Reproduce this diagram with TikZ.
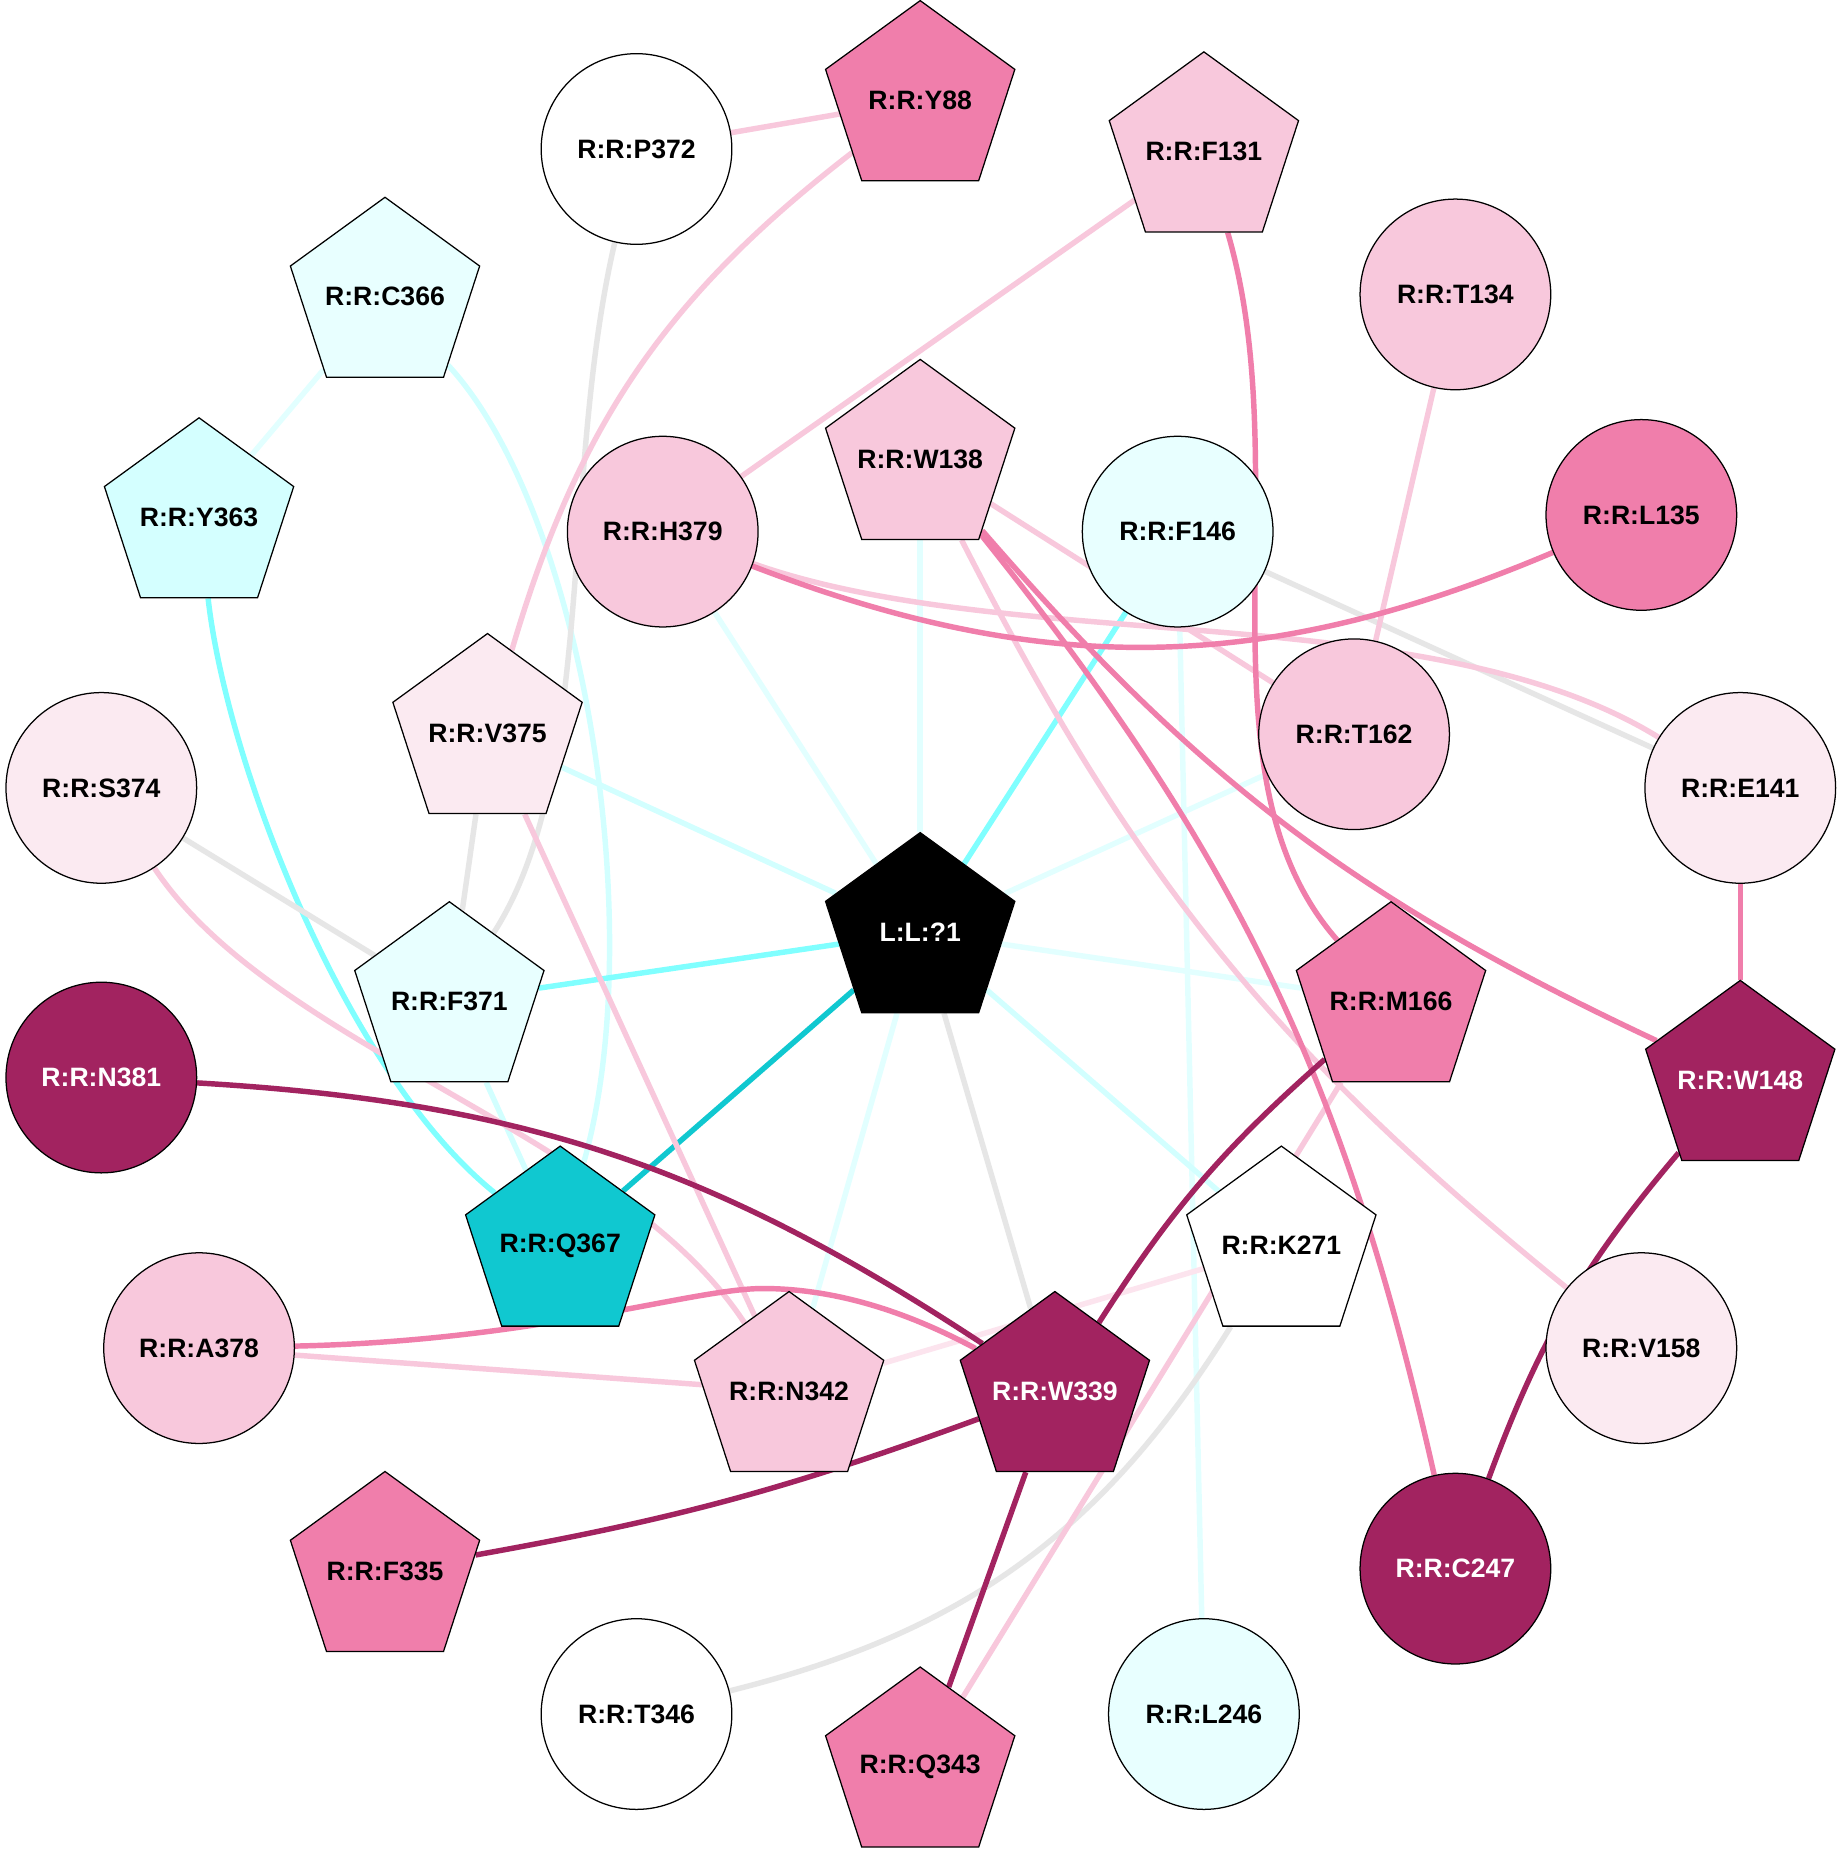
\documentclass[tikz,border=0pt]{standalone}
\usepackage{fontspec}
\setmainfont{Liberation Sans}
\usetikzlibrary{shapes.geometric,backgrounds}

\definecolor{resdark}{HTML}{A22360}
\definecolor{resmid}{HTML}{F07EAB}
\definecolor{reslight}{HTML}{F8C8DC}
\definecolor{respale}{HTML}{FBEAF1}
\definecolor{cyanpale}{HTML}{E8FFFF}
\definecolor{cyanlight}{HTML}{D4FFFF}
\definecolor{cyanfull}{HTML}{10C8D0}
\definecolor{linkgray}{HTML}{E6E6E6}
\definecolor{linkcyan}{HTML}{80FFFF}
\definecolor{linkcyanlt}{HTML}{D2FFFF}
\definecolor{linkcyanpale}{HTML}{E2FFFF}
\definecolor{linkpink}{HTML}{FCE4EE}

\newcommand{\plab}[1]{\makebox[0pt]{#1}}

\begin{document}
\begin{tikzpicture}[x=0.02cm, y=-0.02cm,
  res/.style={draw=black, line width=0.6pt, inner sep=0pt,
    font=\fontsize{12.7}{15}\selectfont\bfseries},
  circ/.style={res, circle, minimum size=3.2cm},
  pent/.style={res, regular polygon, regular polygon sides=5, minimum size=3.34cm},
  link/.style={line width=2.6pt}]
  \useasboundingbox (0,0) rectangle (1546,1568);

  \node (L1)   at ( 772, 782) [pent, fill=black, text=white] {\plab{L:L:?1}};

  \node (Y88)  at ( 772,  84) [pent, fill=resmid]    {\plab{R:R:Y88}};
  \node (P372) at ( 534, 125) [circ, fill=white]     {R:R:P372};
  \node (F131) at (1010, 127) [pent, fill=reslight]  {\plab{R:R:F131}};
  \node (C366) at ( 323, 249) [pent, fill=cyanpale]  {\plab{R:R:C366}};
  \node (T134) at (1221, 247) [circ, fill=reslight]  {R:R:T134};
  \node (Y363) at ( 167, 434) [pent, fill=cyanlight] {\plab{R:R:Y363}};
  \node (H379) at ( 556, 446) [circ, fill=reslight]  {R:R:H379};
  \node (W138) at ( 772, 385) [pent, fill=reslight]  {\plab{R:R:W138}};
  \node (F146) at ( 988, 446) [circ, fill=cyanpale]  {R:R:F146};
  \node (L135) at (1377, 432) [circ, fill=resmid]    {R:R:L135};
  \node (V375) at ( 409, 615) [pent, fill=respale]   {\plab{R:R:V375}};
  \node (S374) at (  85, 661) [circ, fill=respale]   {R:R:S374};
  \node (T162) at (1136, 616) [circ, fill=reslight]  {R:R:T162};
  \node (E141) at (1460, 661) [circ, fill=respale]   {R:R:E141};
  \node (F371) at ( 377, 840) [pent, fill=cyanpale]  {\plab{R:R:F371}};
  \node (M166) at (1167, 840) [pent, fill=resmid]    {\plab{R:R:M166}};
  \node (N381) at (  85, 904) [circ, fill=resdark, text=white] {R:R:N381};
  \node (W148) at (1460, 906) [pent, fill=resdark, text=white] {\plab{R:R:W148}};
  \node (Q367) at ( 470,1045) [pent, fill=cyanfull]  {\plab{R:R:Q367}};
  \node (K271) at (1075,1045) [pent, fill=white]     {\plab{R:R:K271}};
  \node (A378) at ( 167,1131) [circ, fill=reslight]  {R:R:A378};
  \node (N342) at ( 662,1167) [pent, fill=reslight]  {\plab{R:R:N342}};
  \node (W339) at ( 885,1167) [pent, fill=resdark, text=white] {\plab{R:R:W339}};
  \node (V158) at (1377,1131) [circ, fill=respale]   {R:R:V158};
  \node (C247) at (1221,1316) [circ, fill=resdark, text=white] {R:R:C247};
  \node (F335) at ( 323,1318) [pent, fill=resmid]    {\plab{R:R:F335}};
  \node (T346) at ( 534,1438) [circ, fill=white]     {R:R:T346};
  \node (Q343) at ( 772,1482) [pent, fill=resmid]    {\plab{R:R:Q343}};
  \node (L246) at (1010,1438) [circ, fill=cyanpale]  {R:R:L246};

  \begin{scope}[on background layer]
    \fill[white] (0,0) rectangle (1546,1568);

    \draw[link, linkcyanpale] (L1) -- (W138);
    \draw[link, linkcyanpale] (L1) -- (H379);
    \draw[link, linkcyanpale] (L1) -- (T162);
    \draw[link, linkcyanpale] (L1) -- (M166);
    \draw[link, linkcyanpale] (L1) -- (N342);
    \draw[link, linkcyanpale] (F146) -- (L246);
    \draw[link, linkcyanpale] (C366) -- (Y363);
    \draw[link, linkcyanlt] (L1) -- (V375);
    \draw[link, linkcyanlt] (L1) -- (K271);
    \draw[link, linkcyanlt] (F371) -- (Q367);
    \draw[link, linkcyanlt] (C366) .. controls (490,430) and (545,780) .. (Q367);
    \draw[link, linkcyan] (Y363) .. controls (190,640) and (290,900) .. (Q367);
    \draw[link, linkcyan] (L1) -- (F371);
    \draw[link, linkcyan] (L1) -- (F146);
    \draw[link, cyanfull] (L1) -- (Q367);

    \draw[link, linkgray] (P372) .. controls (470,400) and (500,650) .. (F371);
    \draw[link, linkgray] (S374) -- (F371);
    \draw[link, linkgray] (V375) -- (F371);
    \draw[link, linkgray] (F146) -- (E141);
    \draw[link, linkgray] (L1) -- (W339);
    \draw[link, linkgray] (K271) to[bend left=22] (T346);

    \draw[link, linkpink] (K271) -- (N342);
    \draw[link, reslight] (P372) -- (Y88);
    \draw[link, reslight] (Y88) to[bend right=18] (V375);
    \draw[link, reslight] (F131) -- (H379);
    \draw[link, reslight] (T134) -- (T162);
    \draw[link, reslight] (W138) -- (T162);
    \draw[link, reslight] (W138) to[bend right=12] (V158);
    \draw[link, reslight] (H379) .. controls (850,550) and (1200,500) .. (E141);
    \draw[link, reslight] (S374) .. controls (230,880) and (520,950) .. (N342);
    \draw[link, reslight] (V375) -- (N342);
    \draw[link, reslight] (A378) -- (N342);
    \draw[link, reslight] (M166) -- (Q343);

    \draw[link, resmid] (F131) .. controls (1090,400) and (1000,650) .. (M166);
    \draw[link, resmid] (H379) to[bend right=22] (L135);
    \draw[link, resmid] (W138) to[bend right=12] (W148);
    \draw[link, resmid] (W138) to[bend left=13] (C247);
    \draw[link, resmid] (E141) -- (W148);
    \draw[link, resmid] (A378) .. controls (450,1125) and (580,1081) .. (640,1081)
      .. controls (700,1081) and (760,1100) .. (W339);

    \draw[link, resdark] (N381) to[bend left=15] (W339);
    \draw[link, resdark] (M166) to[bend right=8] (W339);
    \draw[link, resdark] (W339) to[bend left=5] (F335);
    \draw[link, resdark] (W339) -- (Q343);
    \draw[link, resdark] (W148) to[bend right=10] (C247);
  \end{scope}
\end{tikzpicture}
\end{document}
